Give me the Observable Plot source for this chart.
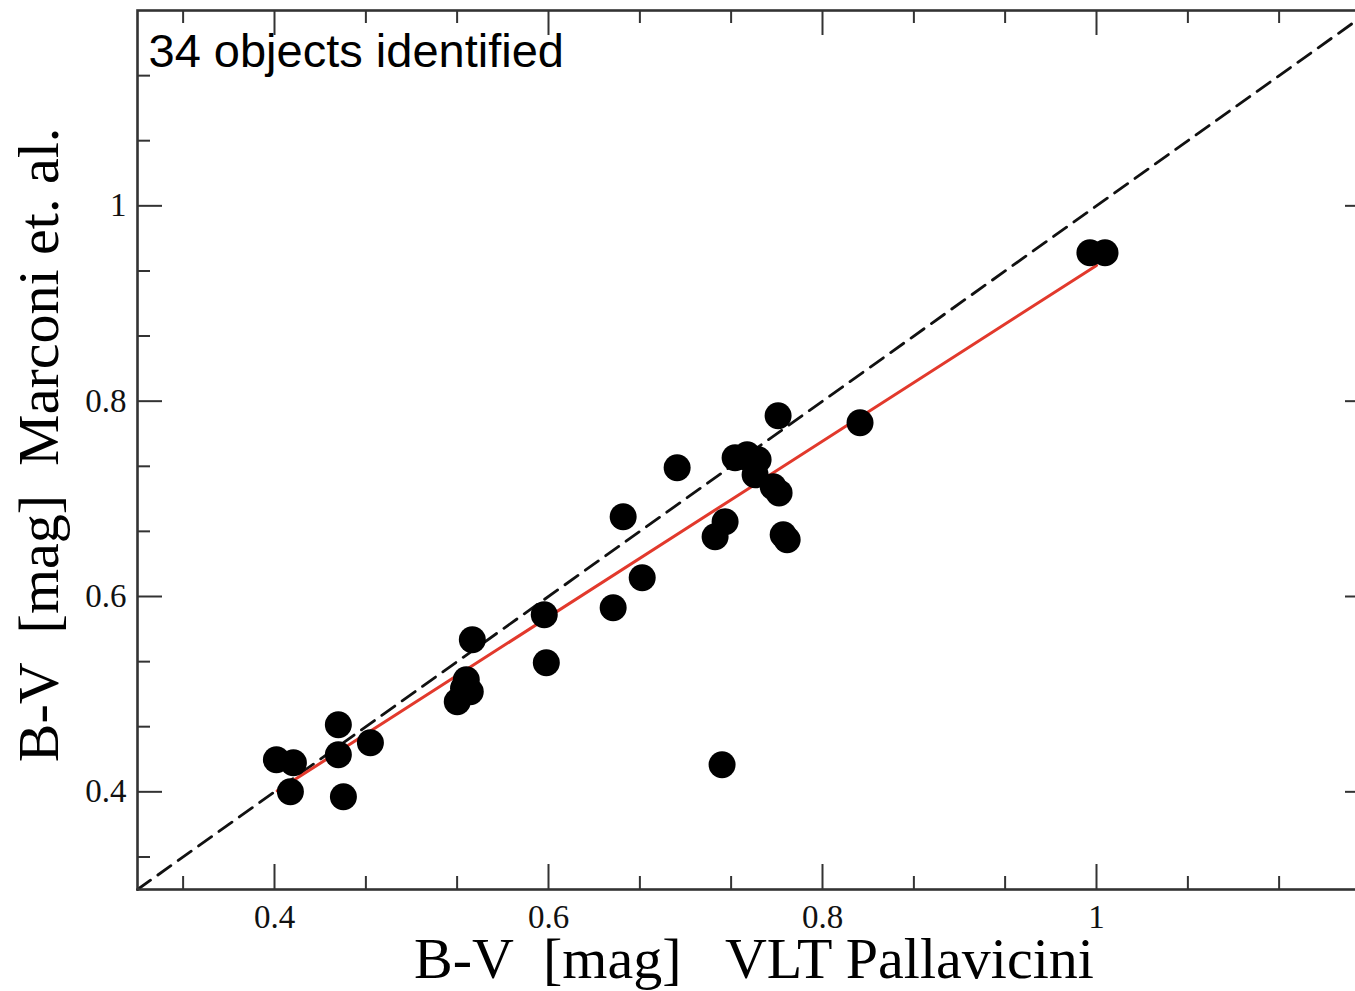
<!DOCTYPE html>
<html>
<head>
<meta charset="utf-8">
<script src="https://cdn.jsdelivr.net/npm/d3@7"></script>
<script src="https://cdn.jsdelivr.net/npm/@observablehq/plot@0.6"></script>
<style>
  html, body { margin: 0; padding: 0; background: #fff; overflow: hidden; }
</style>
</head>
<body>
<div id="chart"></div>
<script>
// B-V VLT Pallavicini (x) vs B-V Marconi et al. (y)
const bvVLT = [0.4014, 0.4138, 0.4116, 0.4466, 0.4466, 0.4503, 0.4700, 0.5444, 0.5400, 0.5429,
               0.5334, 0.5969, 0.5984, 0.6472, 0.6684, 0.6545, 0.6939, 0.7216, 0.7289, 0.7267,
               0.7362, 0.7450, 0.7530, 0.7508, 0.7640, 0.7683, 0.7676, 0.7713, 0.7742, 0.8274,
               0.9952, 1.0062, 0.7440, 0.5380];
const bvMarconi = [0.4328, 0.4297, 0.4001, 0.4687, 0.4380, 0.3950, 0.4502, 0.5557, 0.5147, 0.5024,
                   0.4922, 0.5813, 0.5321, 0.5885, 0.6192, 0.6816, 0.7318, 0.6611, 0.6765, 0.4277,
                   0.7420, 0.7451, 0.7400, 0.7246, 0.7123, 0.7061, 0.7850, 0.6632, 0.6581, 0.7779,
                   0.9519, 0.9519, 0.7430, 0.5060];

// fitted relation (red) endpoints and identity (dashed) extent
const fitX = [0.402, 1.0];
const fitY = [0.401, 0.939];
const identity = [0.3, 1.2];

const domain = [0.3, 1.2];
const majorTicks = [0.4, 0.6, 0.8, 1];
const minorTicks = [0.3333, 0.4667, 0.5333, 0.6667, 0.7333, 0.8667, 0.9333, 1.0667, 1.1333];

const xTitle = "B-V\u00a0\u00a0[mag]\u00a0\u00a0\u00a0VLT Pallavicini";
const yTitle = "B-V\u00a0\u00a0[mag]\u00a0\u00a0Marconi et. al.";
const note = "34 objects identified";

const points = bvVLT.map((x, i) => ({x, y: bvMarconi[i]}));
const fit = fitX.map((x, i) => ({x, y: fitY[i]}));

const W = 1370, H = 991;
const mL = 137, mR = 0, mT = 10, mB = 102;
const pw = W - mL - mR, ph = H - mT - mB;
const major = 25, minor = 13;
const tickStroke = "#333";

const chart = Plot.plot({
  width: W,
  height: H,
  marginLeft: mL,
  marginRight: mR,
  marginTop: mT,
  marginBottom: mB,
  style: {maxWidth: "none", fontFamily: "'Liberation Serif', serif", background: "#fff"},
  x: {domain, axis: null},
  y: {domain, axis: null},
  marks: [
    // identity line
    Plot.line(identity, {x: d => d, y: d => d, stroke: "#111", strokeWidth: 2.8, strokeDasharray: "16,9"}),
    // fit line
    Plot.line(fit, {x: "x", y: "y", stroke: "#e2392c", strokeWidth: 3}),
    // data points
    Plot.dot(points, {x: "x", y: "y", r: 13.5, fill: "#000", stroke: null}),
    // ticks (inward)
    Plot.ruleX(majorTicks, {x: d => d, insetTop: ph - major, stroke: tickStroke, strokeWidth: 2}),
    Plot.ruleX(majorTicks, {x: d => d, insetBottom: ph - major, stroke: tickStroke, strokeWidth: 2}),
    Plot.ruleX(minorTicks, {x: d => d, insetTop: ph - minor, stroke: tickStroke, strokeWidth: 2}),
    Plot.ruleX(minorTicks, {x: d => d, insetBottom: ph - minor, stroke: tickStroke, strokeWidth: 2}),
    Plot.ruleY(majorTicks, {y: d => d, insetRight: pw - major, stroke: tickStroke, strokeWidth: 2}),
    Plot.ruleY(majorTicks, {y: d => d, insetLeft: pw - major, stroke: tickStroke, strokeWidth: 2}),
    Plot.ruleY(minorTicks, {y: d => d, insetRight: pw - minor, stroke: tickStroke, strokeWidth: 2}),
    Plot.ruleY(minorTicks, {y: d => d, insetLeft: pw - minor, stroke: tickStroke, strokeWidth: 2}),
    Plot.frame({stroke: "#333", strokeWidth: 2.6}),
    // tick labels
    Plot.text(majorTicks, {x: d => d, frameAnchor: "bottom", dy: 38, lineAnchor: "bottom",
      text: d => String(d), fontSize: 33, fill: "#111", textAnchor: "middle"}),
    Plot.text(majorTicks, {y: d => d, frameAnchor: "left", dx: -11, lineAnchor: "middle",
      text: d => String(d), fontSize: 33, fill: "#111", textAnchor: "end"}),
    // axis titles
    Plot.text([xTitle], {frameAnchor: "bottom", dy: 88, lineAnchor: "bottom", textAnchor: "middle",
      text: d => d, fontSize: 58, fill: "#000"}),
    Plot.text([yTitle], {frameAnchor: "left", dx: -80, dy: -5, lineAnchor: "bottom", textAnchor: "middle",
      rotate: -90, text: d => d, fontSize: 58, fill: "#000"}),
    // annotation
    Plot.text([note], {frameAnchor: "top-left", dx: 11, dy: 56, lineAnchor: "bottom", textAnchor: "start",
      text: d => d, fontSize: 47, fill: "#000", fontFamily: "'Liberation Sans', Arial, sans-serif"})
  ]
});

document.getElementById("chart").appendChild(chart);
</script>
</body>
</html>
